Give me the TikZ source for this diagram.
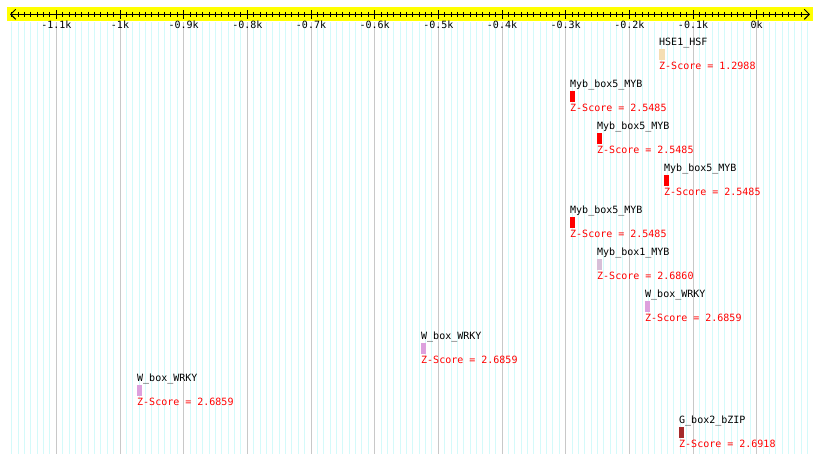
\documentclass[tikz,border=0pt]{standalone}
\usepackage{fontspec}
\newfontfamily\monofont{DejaVu Sans Mono}
\usetikzlibrary{arrows.meta}
\definecolor{axisyellow}{RGB}{255,255,0}
\definecolor{minorgrid}{RGB}{212,250,250}
\definecolor{majorgrid}{RGB}{200,200,200}
\definecolor{hsfcol}{RGB}{245,222,179}
\definecolor{mybcol}{RGB}{255,0,0}
\definecolor{mybonecol}{RGB}{216,191,216}
\definecolor{wrkycol}{RGB}{221,160,221}
\definecolor{bzipcol}{RGB}{165,42,42}
\definecolor{zred}{RGB}{255,0,0}
\begin{document}
\begin{tikzpicture}[x=1pt,y=-1pt,
  font=\monofont\fontsize{10}{12}\selectfont,
  minorline/.style={draw=minorgrid,line width=1pt},
  majorline/.style={draw=majorgrid,line width=1pt},
  axisline/.style={draw=black,line width=1pt,
    arrows={Straight Barb[length=5pt,width=10pt]-Straight Barb[length=5pt,width=10pt]}},
  minortick/.style={draw=black,line width=1pt},
  majortick/.style={draw=black,line width=1pt},
  ticklabel/.style={anchor=base,inner sep=0pt,text=black},
  sitename/.style={anchor=base west,inner sep=0pt,text=black},
  sitez/.style={anchor=base west,inner sep=0pt,text=zred},
  sitebox/.style={anchor=north west,inner sep=0pt,outer sep=0pt,minimum height=10.5pt,draw=none}
]
\useasboundingbox (0,0) rectangle (820,463);
\fill[white] (0,0) rectangle (820,463);
% grid
\foreach \i in {-117,...,8} {
  \draw[minorline] ({756.7+6.367*\i},22) -- ({756.7+6.367*\i},454);
}
\foreach \i in {-11,...,0} {
  \draw[majorline] ({756.7+63.67*\i},22) -- ({756.7+63.67*\i},454);
}
% axis band
\fill[axisyellow] (7,7) rectangle (813,21);
\coordinate (axL) at (10,14.3);
\coordinate (axR) at (810,14.3);
\draw[axisline] (axL) -- (axR);
\foreach \i in {-117,...,7} {
  \draw[minortick] ({756.7+6.367*\i},11.8) -- ({756.7+6.367*\i},16.8);
}
\foreach \i/\lab in {-11/-1.1k,-10/-1k,-9/-0.9k,-8/-0.8k,-7/-0.7k,-6/-0.6k,-5/-0.5k,-4/-0.4k,-3/-0.3k,-2/-0.2k,-1/-0.1k,0/0k} {
  \draw[majortick] ({756.7+63.67*\i},10) -- ({756.7+63.67*\i},18.5);
  \node[ticklabel] (tl\i) at ({756.7+63.67*\i},28.8) {\lab};
}
% sites
\foreach \r/\x/\w/\col/\nm/\z in {
  1/659/6/hsfcol/HSE1\_HSF/1.2988,
  2/570/5/mybcol/Myb\_box5\_MYB/2.5485,
  3/597/5/mybcol/Myb\_box5\_MYB/2.5485,
  4/664/5/mybcol/Myb\_box5\_MYB/2.5485,
  5/570/5/mybcol/Myb\_box5\_MYB/2.5485,
  6/597/5/mybonecol/Myb\_box1\_MYB/2.6860,
  7/645/5/wrkycol/W\_box\_WRKY/2.6859,
  8/421/5/wrkycol/W\_box\_WRKY/2.6859,
  9/137/5/wrkycol/W\_box\_WRKY/2.6859,
  10/679/5/bzipcol/G\_box2\_bZIP/2.6918} {
  \pgfmathsetmacro\top{49+42*(\r-1)}
  \node[sitename] (n\r) at (\x,\top-3.2) {\nm};
  \node[sitebox,fill=\col,minimum width=\w pt] (b\r) at (\x,\top) {};
  \node[sitez] (z\r) at (\x,\top+20.5) {Z-Score = \z};
}
\end{tikzpicture}
\end{document}
